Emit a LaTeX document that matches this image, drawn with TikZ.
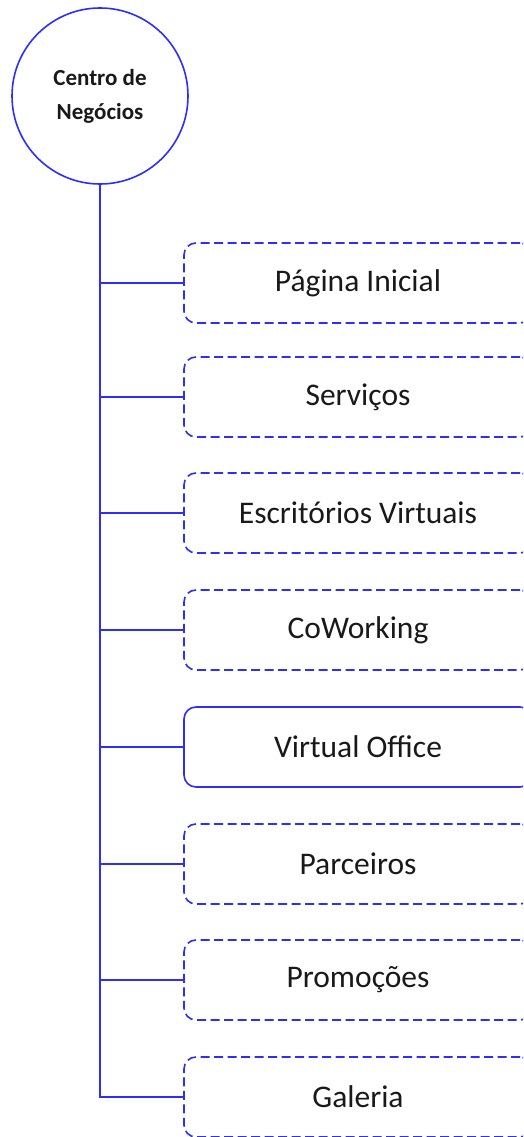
\documentclass[tikz,border=0pt]{standalone}
\usepackage{fontspec}
\setmainfont{Carlito}
\definecolor{linkblue}{RGB}{45,45,255}
\definecolor{labelgray}{RGB}{25,25,25}
\begin{document}
\begin{tikzpicture}[x=1pt,y=-1pt,
  rootnode/.style={circle,draw=linkblue,line width=1.6pt,minimum size=176pt,inner sep=0pt,
    align=center,font=\fontsize{23}{34}\selectfont\bfseries,text=labelgray},
  pagebox/.style={rectangle,rounded corners=12pt,draw=linkblue,line width=1.6pt,
    minimum width=348pt,minimum height=80pt,inner sep=0pt,
    font=\fontsize{31.5}{34}\selectfont,text=labelgray},
  draftbox/.style={pagebox,dash pattern=on 9pt off 4.5pt},
  branch/.style={draw=linkblue,line width=1.6pt}]
\useasboundingbox (0,0) rectangle (523,1137);
\clip (0,0) rectangle (523,1137);
\fill[white] (0,0) rectangle (523,1137);
\node[rootnode] (root) at (100,96) {Centro de\\Negócios};
\node[draftbox] (p1) at (358,283) {Página Inicial};
\node[draftbox] (p2) at (358,397) {Serviços};
\node[draftbox] (p3) at (358,513) {Escritórios Virtuais};
\node[draftbox] (p4) at (358,630) {CoWorking};
\node[pagebox]  (p5) at (358,747) {Virtual Office};
\node[draftbox] (p6) at (358,864) {Parceiros};
\node[draftbox] (p7) at (358,980) {Promoções};
\node[draftbox] (p8) at (358,1097) {Galeria};
\draw[branch] (root.south) -- (root.south |- p8.west) -- (p8.west);
\foreach \i in {1,...,7}{
  \draw[branch] (root.south |- p\i.west) -- (p\i.west);
}
\end{tikzpicture}
\end{document}
